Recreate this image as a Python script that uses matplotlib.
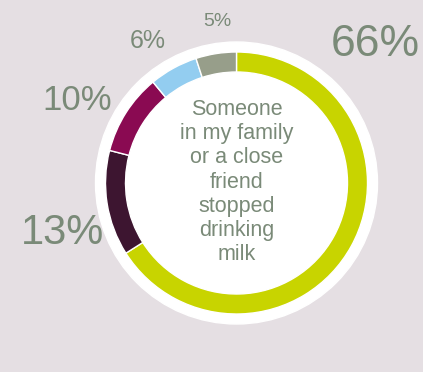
import matplotlib.pyplot as plt
from matplotlib.patches import Circle

plt.rcParams['font.family'] = ['Liberation Sans', 'DejaVu Sans']

# share of answers, clockwise from 12 o'clock
labels = ["66%", "13%", "10%", "6%", "5%"]
values = [66, 13, 10, 6, 5]
colors = ["#c8d400", "#3d1530", "#8a0a52", "#93cdf0", "#979e8a"]
center_text = "Someone\nin my family\nor a close\nfriend\nstopped\ndrinking\nmilk"

# label placement (pixel coords, y from bottom) and font sizes
label_pos = [(375, 328), (62, 139), (77, 272), (148, 331), (217, 351)]
label_size = [32, 30, 25, 18, 14]

BG = "#e5dfe3"
TXT = "#7a8a78"
W, H = 423, 372
cx, cy = 236.5, 189

fig = plt.figure(figsize=(W / 100, H / 100), dpi=100, facecolor=BG)
ax = fig.add_axes([0, 0, 1, 1])
ax.set_facecolor(BG)

ax.add_patch(Circle((cx, cy), 141, color="white", zorder=0))
ax.pie(values, colors=colors, startangle=90, counterclock=False,
       center=(cx, cy), radius=131,
       wedgeprops=dict(width=20, edgecolor="white", linewidth=1))

for lab, (x, y), s in zip(labels, label_pos, label_size):
    ax.text(x, y, lab, fontsize=s, color=TXT, ha="center", va="center")

ax.text(cx, cy + 1, center_text, fontsize=15.5, color=TXT, ha="center",
        va="center", linespacing=1.2)

ax.set_xlim(0, W)
ax.set_ylim(0, H)
ax.set_aspect("equal")
ax.axis("off")

fig.savefig("out.png", dpi=100, facecolor=BG)
